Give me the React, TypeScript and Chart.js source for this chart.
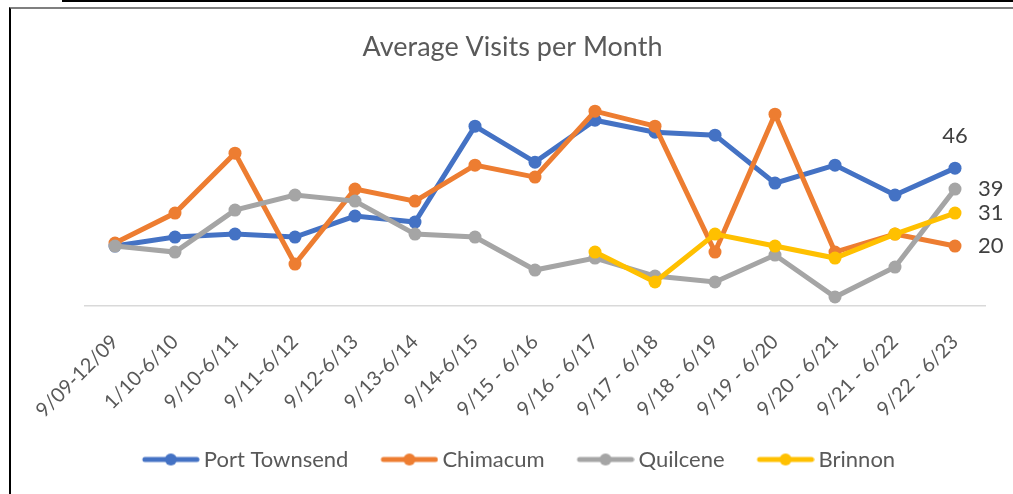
import React, { useEffect, useRef } from "react";
import { Chart, registerables } from "chart.js";

Chart.register(...registerables);

const categories = [
  "9/09-12/09", "1/10-6/10", "9/10-6/11", "9/11-6/12", "9/12-6/13", "9/13-6/14", "9/14-6/15",
  "9/15 - 6/16", "9/16 - 6/17", "9/17 - 6/18", "9/18 - 6/19", "9/19 - 6/20", "9/20 - 6/21",
  "9/21 - 6/22", "9/22 - 6/23",
];
const portTownsend = [20, 23, 24, 23, 30, 28, 60, 48, 62, 58, 57, 41, 47, 37, 46];
const chimacum = [21, 31, 51, 14, 39, 35, 47, 43, 65, 60, 18, 64, 18, 24, 20];
const quilcene = [20, 18, 32, 37, 35, 24, 23, 12, 16, 10, 8, 17, 3, 13, 39];
const brinnon = [null, null, null, null, null, null, null, null, 18, 8, 24, 20, 16, 24, 31];

const seriesNames = ["Port Townsend", "Chimacum", "Quilcene", "Brinnon"];
const seriesColors = ["#4472C4", "#ED7D31", "#A5A5A5", "#FFC000"];

const FONT = "Lato, 'Open Sans', sans-serif";
const LEGEND_BOX = 63;
const LEGEND_IMG = LEGEND_BOX + 14;

function legendSymbol(color: string): HTMLCanvasElement {
  const c = document.createElement("canvas");
  c.width = LEGEND_IMG;
  c.height = 14;
  const g = c.getContext("2d")!;
  const x1 = LEGEND_IMG - 55;
  const x2 = LEGEND_IMG - 3;
  g.strokeStyle = color;
  g.lineWidth = 5;
  g.lineCap = "round";
  g.beginPath();
  g.moveTo(x1, 7);
  g.lineTo(x2, 7);
  g.stroke();
  g.fillStyle = color;
  g.beginPath();
  g.arc((x1 + x2) / 2, 7, 6, 0, Math.PI * 2);
  g.fill();
  return c;
}

const lastLabels = {
  id: "lastLabels",
  afterDatasetsDraw(chart: any) {
    const ctx = chart.ctx;
    ctx.save();
    ctx.font = `22px ${FONT}`;
    ctx.fillStyle = "#404040";
    ctx.textBaseline = "middle";
    chart.data.datasets.forEach((ds: any, i: number) => {
      const meta = chart.getDatasetMeta(i);
      const n = ds.data.length - 1;
      const pt = meta.data[n];
      if (!pt) return;
      const v = ds.data[n];
      if (i === 0) {
        ctx.textAlign = "center";
        ctx.fillText(String(v), pt.x, pt.y - 32);
      } else {
        ctx.textAlign = "left";
        ctx.fillText(String(v), pt.x + 23, pt.y);
      }
    });
    ctx.restore();
  },
};

export default function App() {
  const ref = useRef<HTMLCanvasElement>(null);
  useEffect(() => {
    if (!ref.current) return;
    const data = [portTownsend, chimacum, quilcene, brinnon];
    const chart = new Chart(ref.current, {
      type: "line",
      data: {
        labels: categories,
        datasets: data.map((d, i) => ({
          label: seriesNames[i],
          data: d,
          borderColor: seriesColors[i],
          backgroundColor: seriesColors[i],
          borderWidth: 5,
          pointRadius: 6.5,
          pointHoverRadius: 6.5,
          pointBorderWidth: 0,
          pointStyle: "circle",
          tension: 0,
          spanGaps: false,
          order: 4 - i,
        })),
      },
      plugins: [lastLabels],
      options: {
        animation: false,
        responsive: false,
        devicePixelRatio: 1,
        layout: { padding: { top: 0, left: 12, right: 0, bottom: 13.5 } },
        plugins: {
          tooltip: { enabled: false },
          title: {
            display: true,
            text: "Average Visits per Month",
            color: "#595959",
            font: { family: FONT, size: 27, weight: "normal" as any },
            padding: { top: 30.8, bottom: 33 },
          },
          legend: {
            position: "bottom",
            labels: {
              usePointStyle: true,
              pointStyleWidth: LEGEND_BOX,
              color: "#595959",
              font: { family: FONT, size: 22 },
              padding: 20,
              generateLabels: (ch: any) =>
                ch.data.datasets.map((ds: any, i: number) => ({
                  text: ds.label,
                  pointStyle: legendSymbol(seriesColors[i]),
                  fillStyle: seriesColors[i],
                  strokeStyle: seriesColors[i],
                  lineWidth: 0,
                  hidden: false,
                  datasetIndex: i,
                  fontColor: "#595959",
                })),
            },
          },
        },
        scales: {
          x: {
            offset: true,
            grid: { display: false, drawTicks: false },
            border: { display: true, color: "#D9D9D9", width: 1.5 },
            ticks: {
              autoSkip: false,
              minRotation: 45,
              maxRotation: 45,
              color: "#595959",
              font: { family: FONT, size: 20 },
              padding: 24,
            },
            afterFit: (s: any) => {
              s.height = 122.5;
            },
          },
          y: {
            min: 0,
            max: 70,
            display: true,
            grid: { display: false },
            border: { display: false },
            ticks: { display: false },
            afterFit: (s: any) => {
              s.width = 73;
            },
          },
          y2: {
            type: "linear",
            position: "right",
            display: true,
            grid: { display: false },
            border: { display: false },
            ticks: { display: false },
            afterFit: (s: any) => {
              s.width = 28;
            },
          },
        },
      },
    });
    return () => chart.destroy();
  }, []);

  return (
    <div>
      <div style={{ position: "fixed", left: 62, top: 0, width: 951, height: 2, background: "#000" }} />
      <div
        style={{
          position: "fixed",
          left: 9,
          top: 7,
          width: 1030,
          height: 520,
          borderTop: "2px solid #7f7f7f",
          borderLeft: "2px solid #000",
        }}
      />
      <canvas
        ref={ref}
        width={1013}
        height={494}
        style={{ position: "fixed", left: 0, top: 0, width: 1013, height: 494 }}
      />
    </div>
  );
}
